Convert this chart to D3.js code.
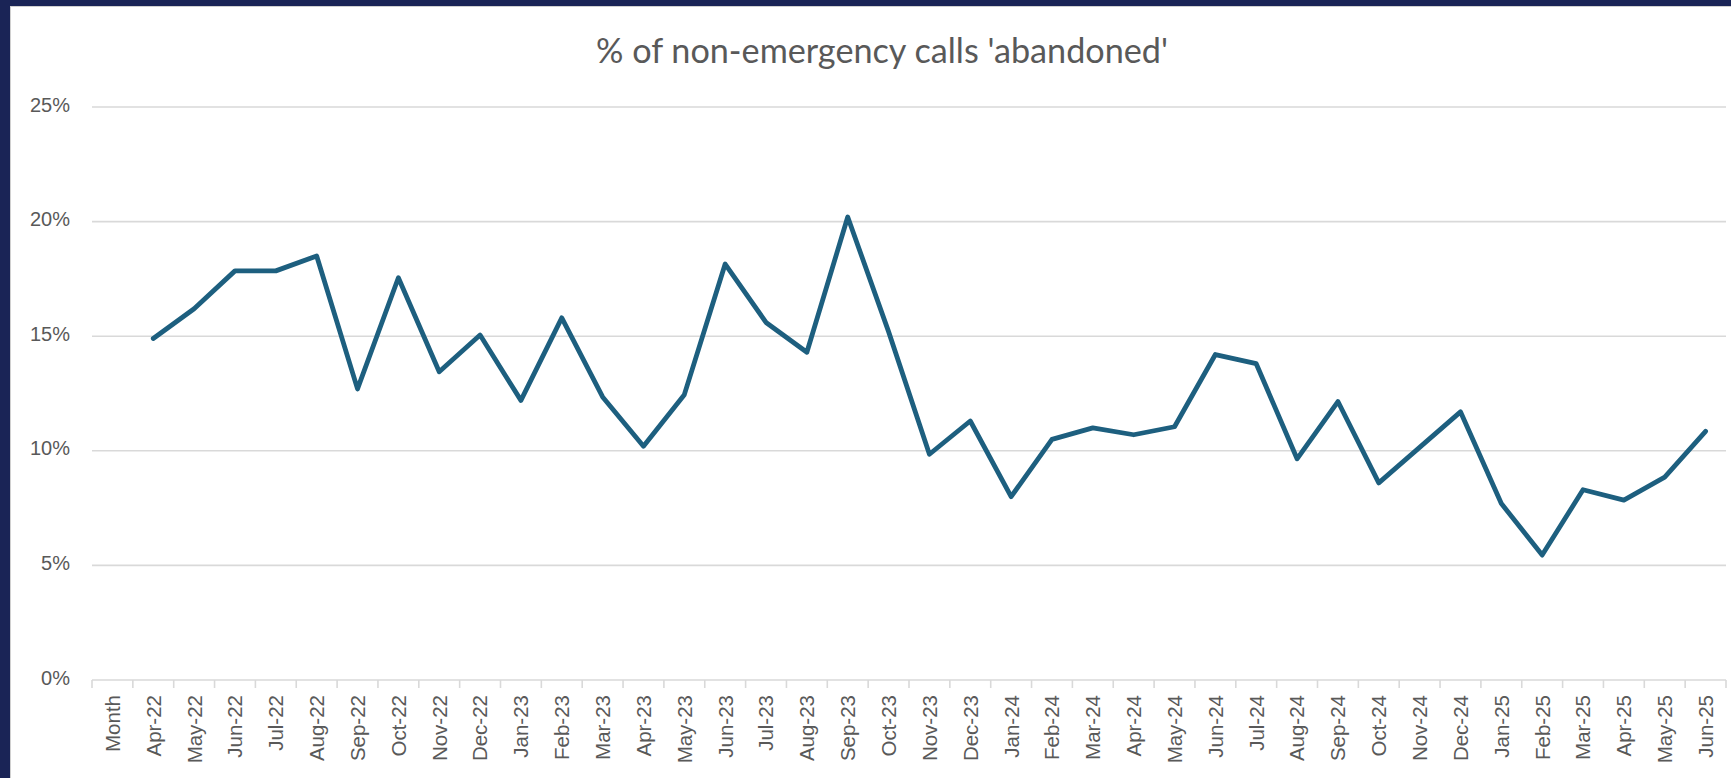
<!DOCTYPE html>
<html>
<head>
<meta charset="utf-8">
<script src="https://cdn.jsdelivr.net/npm/d3@7"></script>
<style>
  html, body { margin: 0; padding: 0; background: #1a2456; overflow: hidden; }
  svg { display: block; }
</style>
</head>
<body>
<svg id="chart" width="1731" height="778"></svg>
<script>
const title = "% of non-emergency calls 'abandoned'";
const categories = ["Month","Apr-22","May-22","Jun-22","Jul-22","Aug-22","Sep-22","Oct-22","Nov-22","Dec-22",
  "Jan-23","Feb-23","Mar-23","Apr-23","May-23","Jun-23","Jul-23","Aug-23","Sep-23","Oct-23","Nov-23","Dec-23",
  "Jan-24","Feb-24","Mar-24","Apr-24","May-24","Jun-24","Jul-24","Aug-24","Sep-24","Oct-24","Nov-24","Dec-24",
  "Jan-25","Feb-25","Mar-25","Apr-25","May-25","Jun-25"];
const abandonedPct = [null, 14.9, 16.2, 17.85, 17.85, 18.5, 12.7, 17.55, 13.45, 15.05,
  12.2, 15.8, 12.35, 10.2, 12.45, 18.15, 15.6, 14.3, 20.2, 15.2, 9.85, 11.3,
  8.0, 10.5, 11.0, 10.7, 11.05, 14.2, 13.8, 9.65, 12.15, 8.6, 10.15, 11.7,
  7.7, 5.45, 8.3, 7.85, 8.85, 10.85];
const yTicks = [0, 5, 10, 15, 20, 25];
const yTickLabels = ["0%", "5%", "10%", "15%", "20%", "25%"];

const svg = d3.select("#chart");
const W = 1731, H = 778;
const plot = { left: 92, right: 1726, top: 107, bottom: 680 };

// card
svg.append("rect").attr("x", 10).attr("y", 6).attr("width", W - 10).attr("height", H - 6)
  .attr("fill", "#ffffff");
svg.append("line").attr("x1", 10.5).attr("x2", 10.5).attr("y1", 6).attr("y2", H)
  .attr("stroke", "#d0d0d0").attr("stroke-width", 1);
svg.append("line").attr("x1", 10).attr("x2", W).attr("y1", 6.5).attr("y2", 6.5)
  .attr("stroke", "#d0d0d0").attr("stroke-width", 1);

const x = d3.scaleBand().domain(categories).range([plot.left, plot.right]).padding(0);
const y = d3.scaleLinear().domain([0, 25]).range([plot.bottom, plot.top]);

// gridlines
const grid = svg.append("g");
grid.selectAll("line").data(yTicks.filter(t => t > 0)).join("line")
  .attr("x1", plot.left).attr("x2", plot.right)
  .attr("y1", d => y(d)).attr("y2", d => y(d))
  .attr("stroke", "#d9d9d9").attr("stroke-width", 1.6);

// y axis labels
const yAxis = d3.axisLeft(y).tickValues(yTicks).tickSize(0).tickPadding(0)
  .tickFormat((d, i) => yTickLabels[i]);
const yg = svg.append("g").attr("transform", `translate(70,0)`).call(yAxis);
yg.select(".domain").remove();
yg.selectAll("text").attr("font-family", "'Liberation Sans', Arial, sans-serif")
  .attr("font-size", 20).attr("fill", "#595959").attr("dy", "0.2em");

// x axis
const xAxis = d3.axisBottom(x).tickSize(0).tickFormat("");
const xg = svg.append("g").attr("transform", `translate(0,${plot.bottom})`).call(xAxis);
xg.select(".domain").attr("stroke", "#d9d9d9").attr("stroke-width", 1.6)
  .attr("d", `M${plot.left},0H${plot.right}`);
xg.selectAll(".tick").remove();
// boundary tick marks
const bounds = categories.map(c => x(c)).concat([plot.right]);
xg.selectAll("line.bt").data(bounds).join("line").attr("class", "bt")
  .attr("x1", d => d).attr("x2", d => d).attr("y1", 0).attr("y2", 8)
  .attr("stroke", "#d9d9d9").attr("stroke-width", 1.6);
// labels
svg.append("g").selectAll("text").data(categories).join("text")
  .attr("transform", d => `translate(${x(d) + x.bandwidth() / 2},695) rotate(-90)`)
  .attr("text-anchor", "end").attr("dy", "0.36em")
  .attr("font-family", "'Liberation Sans', Arial, sans-serif")
  .attr("font-size", 20.5).attr("fill", "#595959")
  .text(d => d);

// line
const line = d3.line()
  .defined((d, i) => abandonedPct[i] != null)
  .x((d, i) => x(categories[i]) + x.bandwidth() / 2)
  .y((d, i) => y(abandonedPct[i]));
svg.append("path").datum(abandonedPct)
  .attr("d", line).attr("fill", "none")
  .attr("stroke", "#1d5f7f").attr("stroke-width", 4.8)
  .attr("stroke-linejoin", "round").attr("stroke-linecap", "round");

// title
const t = svg.append("text").attr("x", 882).attr("y", 63).attr("text-anchor", "middle")
  .attr("font-family", "Lato, 'Open Sans', sans-serif").attr("font-size", 34)
  .attr("fill", "#595959").text(title);
t.attr("textLength", 572).attr("lengthAdjust", "spacingAndGlyphs");
</script>
</body>
</html>
